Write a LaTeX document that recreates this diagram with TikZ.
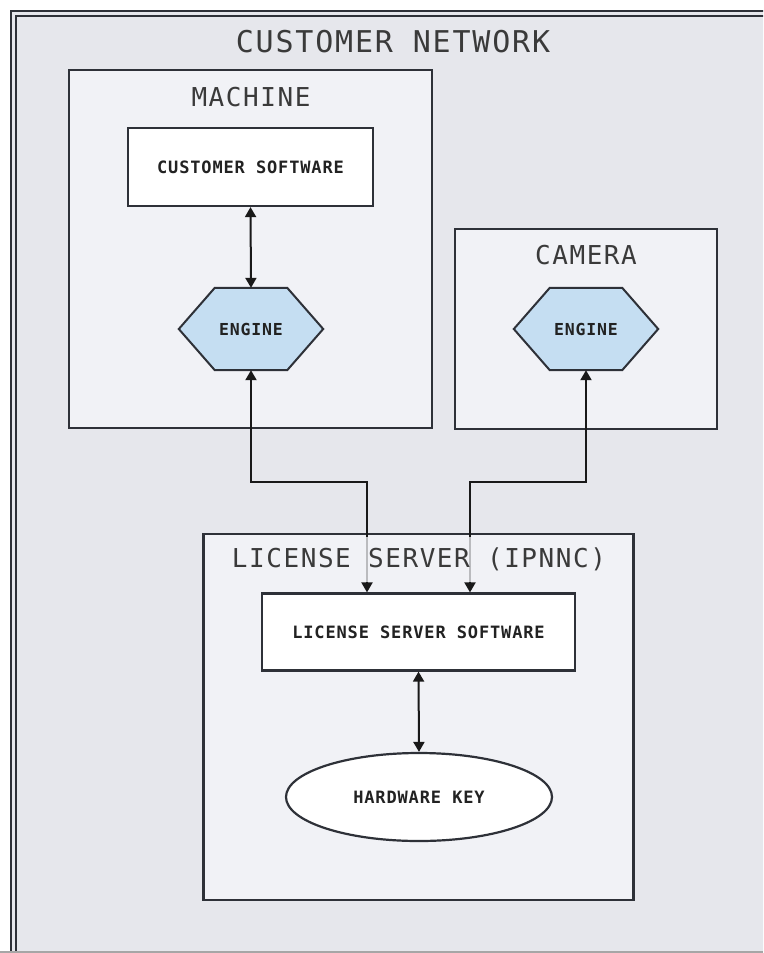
\documentclass[tikz,border=0pt]{standalone}
\usepackage{fontspec}
\usetikzlibrary{arrows.meta,shapes.geometric,calc}
\newfontfamily\titlefont{DejaVu Sans Mono}[LetterSpace=6]
\newfontfamily\labelfont{DejaVu Sans Mono}[LetterSpace=5]
\definecolor{netbg}{HTML}{E6E7EC}
\definecolor{boxbg}{HTML}{F1F2F6}
\definecolor{edgecol}{HTML}{2E3138}
\definecolor{engfill}{HTML}{C5DEF2}
\definecolor{titlecol}{HTML}{3A3A3A}
\definecolor{labelcol}{HTML}{222222}
\tikzset{
  group/.style={draw=edgecol, line width=2.2pt, fill=boxbg, rectangle, inner sep=0pt},
  title/.style={font=\titlefont\fontsize{26}{30}\selectfont, text=titlecol, inner sep=0pt},
  comp/.style={draw=edgecol, line width=2.2pt, fill=white, rectangle, inner sep=0pt,
    font=\labelfont\bfseries\fontsize{17}{20}\selectfont, text=labelcol},
  engname/.style={rectangle, inner sep=0pt, minimum width=144pt, minimum height=82pt,
    font=\labelfont\bfseries\fontsize{16.5}{19}\selectfont, text=labelcol},
  hexa/.style={draw=edgecol, line width=2pt, fill=engfill, line join=miter},
  conn/.style={draw=black!90, line width=2pt, {Triangle[length=10pt,width=11pt]}-{Triangle[length=10pt,width=11pt]}}
}
\begin{document}
\begin{tikzpicture}[x=1pt,y=-1pt]
\useasboundingbox (0,0) rectangle (763,953);
\clip (0,0) rectangle (763,953);
\fill[white] (0,0) rectangle (763,953);
% outer network
\fill[netbg] (10,10) rectangle (800,1000);
\draw[edgecol, line width=2pt] (11,11) rectangle (800,1000);
\draw[edgecol, line width=2pt] (16,16) rectangle (800,1000);
\draw[black!35, line width=1.2pt] (0,952) -- (763,952);
\node[title, font=\titlefont\fontsize{30}{34}\selectfont] (tnet) at (393,42) {CUSTOMER NETWORK};

% groups
\node[group, minimum width=363pt, minimum height=358pt] (machine) at (250.5,249) {};
\node[group, minimum width=262pt, minimum height=200pt] (camera) at (586,329) {};
\node[group, minimum width=430pt, minimum height=366pt] (lserver) at (418.5,717) {};
\node[title] (tmach) at (251,97) {MACHINE};
\node[title] (tcam) at (586,255) {CAMERA};

% components
\node[comp, minimum width=245pt, minimum height=78pt] (cs) at (250.5,167) {CUSTOMER SOFTWARE};
\node[comp, minimum width=313pt, minimum height=77pt] (lss) at (418.5,632) {LICENSE SERVER SOFTWARE};
\node[comp, ellipse, minimum width=266pt, minimum height=88pt] (hk) at (419,797) {HARDWARE KEY};

% engines
\node[engname] (eng1) at (251,329) {};
\node[engname] (eng2) at (586,329) {};
\foreach \e in {eng1,eng2}{
  \draw[hexa] ($(\e.north west)+(36,0)$) -- ($(\e.north east)+(-36,0)$) -- (\e.east)
    -- ($(\e.south east)+(-36,0)$) -- ($(\e.south west)+(36,0)$) -- (\e.west) -- cycle;
}
\node[engname] at (eng1) {ENGINE};
\node[engname] at (eng2) {ENGINE};

% connectors
\coordinate (j1) at (367,482);
\coordinate (j2) at (470,482);
\draw[conn] (cs.south) -- (eng1.north);
\draw[conn] (lss.south) -- (hk.north);
\draw[conn] (eng1.south) |- (j1) -- (j1 |- lss.north);
\draw[conn] (eng2.south) |- (j2) -- (j2 |- lss.north);

% license server title with translucent background
\node[title, fill=boxbg, fill opacity=0.75, text opacity=1, minimum height=45pt, inner xsep=2pt] (tls) at (419,559) {LICENSE SERVER (IPNNC)};
\end{tikzpicture}
\end{document}
